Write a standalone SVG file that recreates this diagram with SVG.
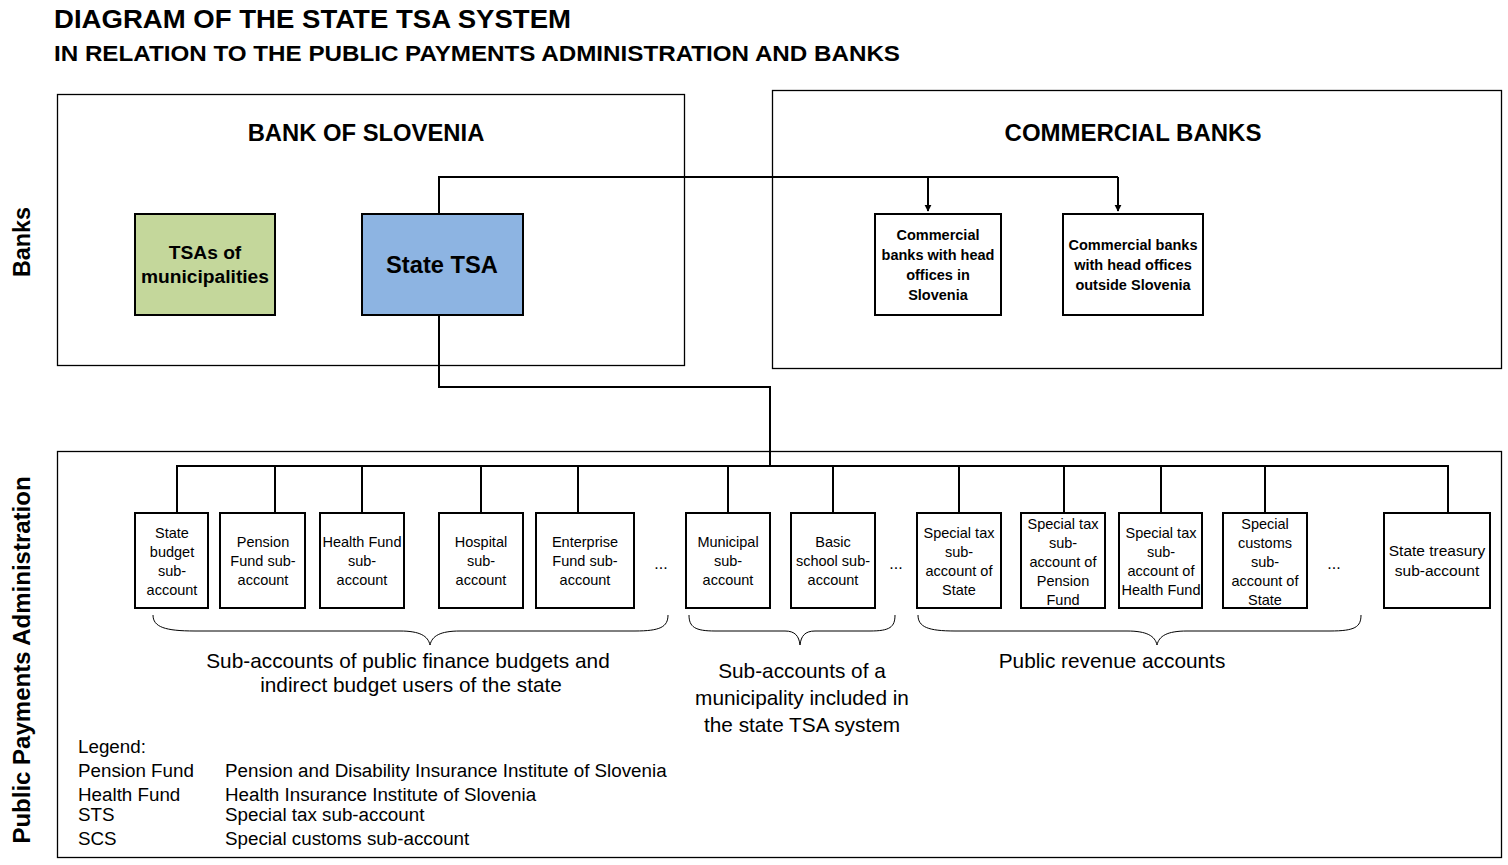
<svg xmlns="http://www.w3.org/2000/svg" width="1508" height="865" viewBox="0 0 1508 865">
<defs>
<style>
text{font-family:"Liberation Sans",Arial,sans-serif;fill:#000}
.t{font-weight:bold}
.big{fill:#fff;stroke:#000;stroke-width:1.3}
.box{stroke:#000;stroke-width:2;fill:#fff}
.sub{font-size:14.5px;text-anchor:middle}
.dots{font-size:16px;text-anchor:middle}
.cb{font-size:14.5px;font-weight:bold;text-anchor:middle}
.con{fill:none;stroke:#000;stroke-width:2}
.brace{fill:none;stroke:#000;stroke-width:1}
.lbl{font-size:20.8px;text-anchor:middle}
.leg{font-size:18.8px}
</style>
<marker id="arr" viewBox="0 0 10 10" refX="9" refY="5" markerWidth="7" markerHeight="8" markerUnits="userSpaceOnUse" orient="auto"><path d="M0,0 L10,5 L0,10 z" fill="#000"/></marker>
</defs>
<rect width="1508" height="865" fill="#fff"/>
<g id="title">
<text x="54" y="28" class="t" font-size="26" textLength="517" lengthAdjust="spacingAndGlyphs">DIAGRAM OF THE STATE TSA SYSTEM</text>
<text x="54" y="61" class="t" font-size="22" textLength="846" lengthAdjust="spacingAndGlyphs">IN RELATION TO THE PUBLIC PAYMENTS ADMINISTRATION AND BANKS</text>
</g>
<g id="side-labels">
<text class="t" font-size="23.4" text-anchor="middle" transform="translate(30,242) rotate(-90)">Banks</text>
<text class="t" font-size="24" text-anchor="middle" transform="translate(30,660) rotate(-90)">Public Payments Administration</text>
</g>
<g id="bank-of-slovenia">
<rect class="big" x="57.5" y="94.5" width="627" height="271"/>
<text x="366" y="141" class="t" font-size="23.8" text-anchor="middle">BANK OF SLOVENIA</text>
</g>
<g id="commercial-banks">
<rect class="big" x="772.5" y="90.5" width="729" height="278"/>
<text x="1133" y="141" class="t" font-size="24" text-anchor="middle">COMMERCIAL BANKS</text>
</g>
<g id="ppa">
<rect class="big" x="57.5" y="451.5" width="1444" height="406"/>
</g>
<g id="connectors">
<path class="con" d="M439,214 V177 H1118"/>
<path class="con" d="M928,177 V211" marker-end="url(#arr)"/>
<path class="con" d="M1118,177 V211" marker-end="url(#arr)"/>
<path class="con" d="M439,315 V387 H770 V466"/>
<path class="con" d="M177,513 V466 H1448 V513"/>
<path class="con" d="M275,466 V513 M362,466 V513 M481,466 V513 M578,466 V513 M728,466 V513 M833,466 V513 M959,466 V513 M1064,466 V513 M1161,466 V513 M1265,466 V513"/>
</g>
<g id="tsa-municipalities">
<rect class="box" x="135" y="214" width="140" height="101" style="fill:#C4D79B"/>
<text x="205" y="259" class="t" font-size="19.2" text-anchor="middle">TSAs of</text>
<text x="205" y="283" class="t" font-size="19.2" text-anchor="middle">municipalities</text>
</g>
<g id="state-tsa">
<rect class="box" x="362" y="214" width="161" height="101" style="fill:#8DB4E2"/>
<text x="442" y="273" class="t" font-size="23.7" text-anchor="middle">State TSA</text>
</g>
<g id="cb-slovenia">
<rect class="box" x="875" y="214" width="126" height="101"/>
<text class="cb" x="938" y="240">Commercial</text>
<text class="cb" x="938" y="260">banks with head</text>
<text class="cb" x="938" y="280">offices in</text>
<text class="cb" x="938" y="300">Slovenia</text>
</g>
<g id="cb-outside">
<rect class="box" x="1063" y="214" width="140" height="101"/>
<text class="cb" x="1133" y="250">Commercial banks</text>
<text class="cb" x="1133" y="270">with head offices</text>
<text class="cb" x="1133" y="290">outside Slovenia</text>
</g>
<g id="sa-state-budget">
<rect class="box" x="135" y="513" width="73" height="95"/>
<text class="sub" x="172" y="538">State</text><text class="sub" x="172" y="557">budget</text><text class="sub" x="172" y="576">sub-</text><text class="sub" x="172" y="595">account</text>
</g>
<g id="sa-pension">
<rect class="box" x="220" y="513" width="85" height="95"/>
<text class="sub" x="263" y="547">Pension</text><text class="sub" x="263" y="566">Fund sub-</text><text class="sub" x="263" y="585">account</text>
</g>
<g id="sa-health">
<rect class="box" x="320" y="513" width="84" height="95"/>
<text class="sub" x="362" y="547">Health Fund</text><text class="sub" x="362" y="566">sub-</text><text class="sub" x="362" y="585">account</text>
</g>
<g id="sa-hospital">
<rect class="box" x="439" y="513" width="84" height="95"/>
<text class="sub" x="481" y="547">Hospital</text><text class="sub" x="481" y="566">sub-</text><text class="sub" x="481" y="585">account</text>
</g>
<g id="sa-enterprise">
<rect class="box" x="536" y="513" width="98" height="95"/>
<text class="sub" x="585" y="547">Enterprise</text><text class="sub" x="585" y="566">Fund sub-</text><text class="sub" x="585" y="585">account</text>
</g>
<text class="dots" x="661" y="569">...</text>
<g id="sa-municipal">
<rect class="box" x="686" y="513" width="84" height="95"/>
<text class="sub" x="728" y="547">Municipal</text><text class="sub" x="728" y="566">sub-</text><text class="sub" x="728" y="585">account</text>
</g>
<g id="sa-basic-school">
<rect class="box" x="791" y="513" width="84" height="95"/>
<text class="sub" x="833" y="547">Basic</text><text class="sub" x="833" y="566">school sub-</text><text class="sub" x="833" y="585">account</text>
</g>
<text class="dots" x="896" y="569">...</text>
<g id="sts-state">
<rect class="box" x="917" y="513" width="84" height="95"/>
<text class="sub" x="959" y="538">Special tax</text><text class="sub" x="959" y="557">sub-</text><text class="sub" x="959" y="576">account of</text><text class="sub" x="959" y="595">State</text>
</g>
<g id="sts-pension">
<rect class="box" x="1021" y="513" width="84" height="95"/>
<text class="sub" x="1063" y="529">Special tax</text><text class="sub" x="1063" y="548">sub-</text><text class="sub" x="1063" y="567">account of</text><text class="sub" x="1063" y="586">Pension</text><text class="sub" x="1063" y="605">Fund</text>
</g>
<g id="sts-health">
<rect class="box" x="1119" y="513" width="83" height="95"/>
<text class="sub" x="1161" y="538">Special tax</text><text class="sub" x="1161" y="557">sub-</text><text class="sub" x="1161" y="576">account of</text><text class="sub" x="1161" y="595">Health Fund</text>
</g>
<g id="scs-state">
<rect class="box" x="1223" y="513" width="84" height="95"/>
<text class="sub" x="1265" y="529">Special</text><text class="sub" x="1265" y="548">customs</text><text class="sub" x="1265" y="567">sub-</text><text class="sub" x="1265" y="586">account of</text><text class="sub" x="1265" y="605">State</text>
</g>
<text class="dots" x="1334" y="569">...</text>
<g id="sa-treasury">
<rect class="box" x="1384" y="513" width="106" height="95"/>
<text class="sub" x="1437" y="556" font-size="15.5" style="font-size:15.5px">State treasury</text><text class="sub" x="1437" y="576" style="font-size:15.5px">sub-account</text>
</g>
<g id="braces">
<path class="brace" d="M153,615 C153,627 165,631 195,631 L400,631 C420,631 428,636 430,645 C432,636 440,631 460,631 L635,631 C660,631 668,627 668,615"/>
<path class="brace" d="M689,615 C689,627 695,631 715,631 L785,631 C795,631 799,636 800,645 C801,636 805,631 815,631 L870,631 C890,631 895,627 895,615"/>
<path class="brace" d="M918,615 C918,627 928,631 955,631 L1127,631 C1147,631 1155,636 1157,645 C1159,636 1167,631 1187,631 L1330,631 C1355,631 1361,627 1361,615"/>
</g>
<g id="brace-labels">
<text class="lbl" x="408" y="668">Sub-accounts of public finance budgets and</text>
<text class="lbl" x="411" y="692">indirect budget users of the state</text>
<text class="lbl" x="802" y="678">Sub-accounts of a</text>
<text class="lbl" x="802" y="705">municipality included in</text>
<text class="lbl" x="802" y="732">the state TSA system</text>
<text class="lbl" x="1112" y="668">Public revenue accounts</text>
</g>
<g id="legend">
<text class="leg" x="78" y="753">Legend:</text>
<text class="leg" x="78" y="777">Pension Fund</text><text class="leg" x="225" y="777">Pension and Disability Insurance Institute of Slovenia</text>
<text class="leg" x="78" y="801">Health Fund</text><text class="leg" x="225" y="801">Health Insurance Institute of Slovenia</text>
<text class="leg" x="78" y="821">STS</text><text class="leg" x="225" y="821">Special tax sub-account</text>
<text class="leg" x="78" y="845">SCS</text><text class="leg" x="225" y="845">Special customs sub-account</text>
</g>
</svg>
